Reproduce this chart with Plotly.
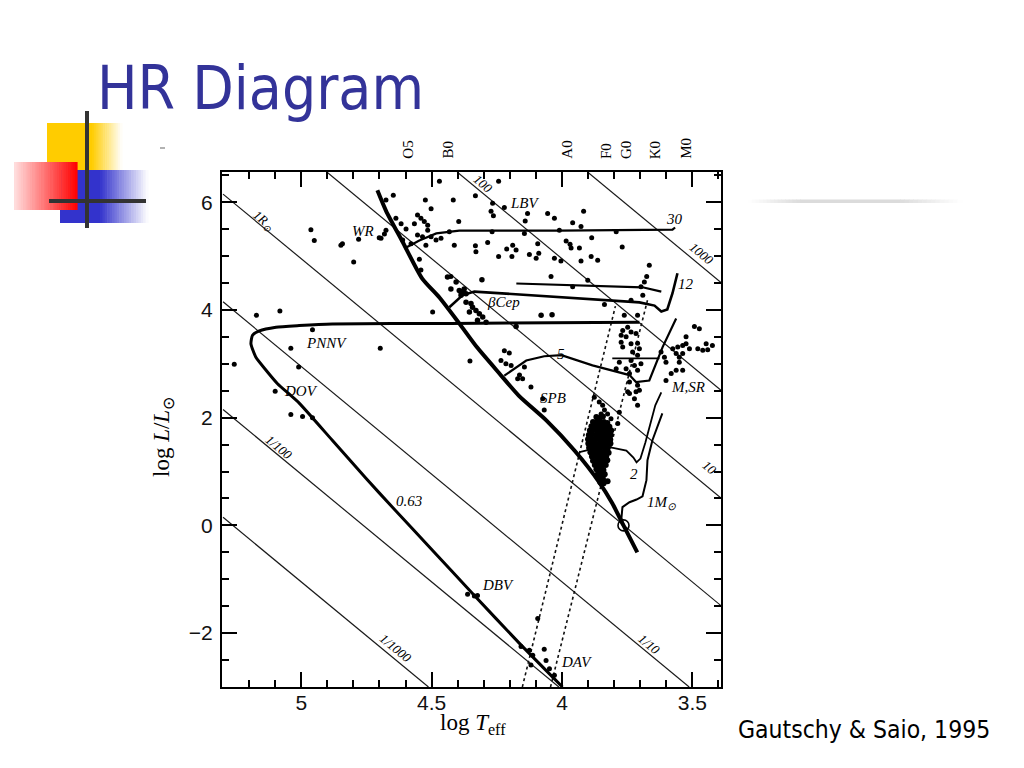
import plotly.graph_objects as go

# ---------------- data (log Teff, log L/Lsun) ----------------
zams_logT = [4.708, 4.674, 4.612, 4.536, 4.470, 4.394, 4.325, 4.240, 4.164, 4.060, 3.952, 3.857, 3.807, 3.764, 3.711]
zams_logL = [6.22, 5.83, 5.27, 4.58, 4.23, 3.75, 3.30, 2.82, 2.40, 1.95, 1.39, 0.80, 0.41, 0.00, -0.50]

track30_logT = [4.605, 4.547, 4.482, 4.394, 4.010, 3.576, 3.566]
track30_logL = [5.14, 5.29, 5.42, 5.47, 5.47, 5.49, 5.53]
track12_logT = [4.432, 4.382, 4.336, 3.895, 3.703, 3.645, 3.619, 3.596, 3.576, 3.557]
track12_logL = [4.05, 4.27, 4.34, 4.21, 4.14, 4.08, 3.97, 4.01, 4.31, 4.68]
loop12_logT = [4.175, 3.691, 3.619]
loop12_logL = [4.49, 4.42, 4.34]
track5_logT = [4.221, 4.171, 4.137, 4.068, 4.002, 3.883, 3.741, 3.716, 3.665, 3.614, 3.562]
track5_logL = [2.78, 2.95, 3.06, 3.14, 3.16, 2.97, 2.79, 2.66, 2.69, 3.31, 3.84]
loop5_logT = [3.807, 3.626]
loop5_logL = [3.10, 3.10]
track2_logT = [3.933, 3.837, 3.753, 3.726, 3.714, 3.699, 3.680, 3.661, 3.642, 3.619]
track2_logL = [1.36, 1.47, 1.39, 1.26, 1.17, 1.24, 1.54, 1.91, 2.23, 2.47]
track1_logT = [3.764, 3.772, 3.768, 3.741, 3.714, 3.691, 3.676, 3.672, 3.653, 3.615]
track1_logL = [0.00, 0.13, 0.34, 0.43, 0.48, 0.54, 0.84, 1.21, 1.58, 2.08]
pagb_logT = [3.703, 4.432, 4.881, 5.008, 5.097, 5.161, 5.187, 5.193, 5.174, 5.135, 5.091, 5.008,
             4.881, 4.751, 4.651, 4.497, 4.344, 4.163, 3.998]
pagb_logL = [3.77, 3.75, 3.74, 3.71, 3.68, 3.61, 3.53, 3.37, 3.12, 2.88, 2.63, 2.27,
             1.58, 0.87, 0.34, -0.46, -1.26, -2.19, -3.00]

# instability strip edges
strip_hot_logT = [4.152, 3.795]
strip_hot_logL = [-3.0, 4.07]
strip_cool_logT = [4.044, 3.672]
strip_cool_logL = [-3.0, 4.18]

# constant-radius lines (end points)
radius_names = ["1/1000", "1/100", "1/10", "1R<sub>⊙</sub>", "10", "100", "1000"]
radius_T0 = [5.30, 5.30, 5.30, 5.30, 4.902, 4.402, 3.902]
radius_L0 = [0.15, 2.15, 4.15, 6.15, 6.56, 6.56, 6.56]
radius_T1 = [4.512, 4.012, 3.512, 3.39, 3.39, 3.39, 3.39]
radius_L1 = [-3.0, -3.0, -3.0, -1.49, 0.51, 2.51, 4.51]
radius_lab_T = [4.637, 5.084, 3.665, 5.148, 3.434, 4.304, 3.466]
radius_lab_L = [-2.29, 1.45, -2.22, 5.66, 1.08, 6.34, 5.04]

# observed stars
upper_T = [4.470, 4.243, 4.332, 4.647, 4.675, 4.524, 4.417, 4.502, 4.266, 4.272, 4.263, 4.221, 4.132, 4.055, 4.029, 4.141,
           4.554, 4.541, 4.528, 4.515, 4.515, 4.396, 4.637, 4.617, 4.598, 4.566, 4.675, 4.694, 4.554, 4.535, 4.502, 4.483,
           4.464, 4.432, 4.611, 4.579, 4.522, 4.268, 4.144, 4.413, 4.332, 4.330, 4.285, 4.212, 4.189, 4.176, 4.192, 4.243,
           4.125, 4.093, 4.099, 4.089, 4.029, 4.547, 4.541, 4.426, 4.042,
           3.917, 3.959, 3.927, 4.010, 3.792, 3.886, 3.984, 3.969, 3.965, 3.933, 3.769, 4.004, 3.927, 3.888, 3.863, 3.665,
           3.675, 3.684, 3.697, 3.959, 3.901]
upper_L = [6.39, 6.39, 6.12, 6.13, 6.04, 6.04, 6.04, 5.88, 5.98, 5.83, 5.75, 5.90, 5.79, 5.79, 5.70, 5.65,
           5.76, 5.70, 5.64, 5.57, 5.48, 5.64, 5.70, 5.60, 5.50, 5.60, 5.48, 5.33, 5.39, 5.36, 5.36, 5.30,
           5.33, 5.45, 5.30, 5.23, 5.20, 5.45, 5.42, 5.20, 5.19, 5.08, 5.25, 5.13, 5.20, 5.11, 4.99, 4.99,
           5.03, 5.23, 4.96, 5.05, 4.96, 4.94, 4.74, 4.62, 4.62,
           5.83, 5.62, 5.55, 5.48, 5.45, 5.34, 5.28, 5.22, 5.15, 5.15, 5.17, 4.91, 4.91, 4.99, 4.92, 4.83,
           4.62, 4.52, 4.43, 4.43, 4.55]
bcep_T = [4.394, 4.375, 4.368, 4.387, 4.382, 4.426, 4.439, 4.406, 4.307, 4.349, 4.343, 4.330, 4.355, 4.317, 4.304,
          4.324, 4.291, 4.368, 4.080, 4.038, 4.176, 4.386, 4.378]
bcep_L = [4.36, 4.39, 4.30, 4.27, 4.33, 4.39, 4.61, 4.52, 4.56, 4.12, 4.05, 3.99, 3.96, 3.93, 3.87,
          3.81, 3.77, 4.14, 3.90, 3.91, 3.69, 4.31, 4.35]
spb_T = [4.221, 4.202, 4.234, 4.215, 4.195, 4.353, 4.163, 4.170, 4.151, 4.144, 4.119, 4.074, 4.068]
spb_L = [3.24, 3.20, 3.06, 3.00, 2.97, 3.05, 2.79, 2.72, 2.72, 2.94, 2.57, 2.35, 2.14]
ceph_T = [3.837, 3.735, 3.690, 3.761, 3.710, 3.748, 3.767, 3.735, 3.773, 3.754, 3.716, 3.773, 3.735, 3.710, 3.703,
          3.767, 3.729, 3.710, 3.735, 3.697, 3.780, 3.722, 3.710, 3.754, 3.741, 3.792, 3.741, 3.710, 3.703, 3.748,
          3.876, 3.857, 3.844, 3.837, 3.850, 3.825, 3.812, 3.780, 3.786, 3.741, 3.716, 3.710, 3.722]
ceph_L = [4.10, 4.18, 4.27, 3.90, 3.90, 3.68, 3.62, 3.59, 3.53, 3.50, 3.56, 3.40, 3.37, 3.38, 3.28,
          3.31, 3.22, 3.16, 3.06, 3.00, 3.03, 2.97, 2.88, 2.91, 2.82, 2.91, 2.66, 2.60, 2.51, 2.48,
          2.38, 2.29, 2.23, 2.14, 2.07, 2.07, 1.98, 2.10, 1.89, 2.45, 2.48, 2.23, 2.35]
msr_T = [3.620, 3.607, 3.601, 3.575, 3.556, 3.562, 3.550, 3.537, 3.524, 3.511, 3.492, 3.473, 3.479, 3.460, 3.441,
         3.524, 3.537, 3.550, 3.581, 3.562, 3.537, 3.601, 3.423, 3.447]
msr_L = [3.22, 3.12, 3.03, 3.28, 3.31, 3.19, 3.12, 3.34, 3.37, 3.28, 3.69, 3.65, 3.28, 3.25, 3.26,
         3.50, 3.19, 3.03, 2.82, 2.88, 2.88, 2.69, 3.34, 3.37]
clump_T = [3.868, 3.855, 3.843, 3.881, 3.865, 3.852, 3.839, 3.826, 3.887, 3.875, 3.861, 3.846, 3.833, 3.818,
           3.893, 3.878, 3.865, 3.849, 3.836, 3.823, 3.811, 3.897, 3.884, 3.868, 3.856, 3.840, 3.828, 3.813,
           3.900, 3.885, 3.872, 3.857, 3.844, 3.829, 3.815, 3.899, 3.886, 3.870, 3.855, 3.842, 3.827, 3.814,
           3.896, 3.881, 3.868, 3.853, 3.838, 3.825, 3.891, 3.877, 3.861, 3.848, 3.835, 3.821,
           3.885, 3.872, 3.859, 3.844, 3.830, 3.881, 3.866, 3.851, 3.839, 3.826, 3.874, 3.861, 3.846, 3.832,
           3.868, 3.853, 3.841, 3.862, 3.849, 3.836, 3.857, 3.843, 3.853, 3.840, 3.825]
clump_L = [2.01, 1.99, 2.02, 1.92, 1.93, 1.91, 1.92, 1.90, 1.84, 1.85, 1.83, 1.84, 1.85, 1.83,
           1.76, 1.77, 1.75, 1.76, 1.77, 1.75, 1.76, 1.68, 1.69, 1.67, 1.68, 1.69, 1.67, 1.68,
           1.60, 1.61, 1.59, 1.60, 1.61, 1.59, 1.60, 1.52, 1.53, 1.51, 1.52, 1.53, 1.51, 1.52,
           1.44, 1.45, 1.43, 1.44, 1.45, 1.43, 1.36, 1.37, 1.35, 1.36, 1.37, 1.35,
           1.28, 1.29, 1.27, 1.28, 1.29, 1.20, 1.21, 1.19, 1.20, 1.21, 1.12, 1.13, 1.11, 1.12,
           1.04, 1.05, 1.03, 0.96, 0.97, 0.95, 0.88, 0.87, 0.80, 0.78, 0.82]
left_T = [4.963, 4.950, 4.848, 4.842, 4.780, 4.799, 4.701, 4.681, 5.172, 5.082, 4.957, 4.496, 5.257, 5.040,
          5.010, 5.100, 5.040, 4.995, 4.957, 4.697]
left_L = [5.49, 5.29, 5.20, 5.23, 5.31, 4.89, 5.34, 5.41, 3.90, 3.98, 3.63, 3.96, 2.99, 3.29,
          2.94, 2.49, 2.06, 2.02, 2.00, 3.29]
wd_T = [4.362, 4.336, 4.324, 4.093, 4.157, 4.125, 4.112, 4.119, 4.068, 4.061, 4.048, 4.029]
wd_L = [-1.28, -1.31, -1.30, -1.73, -2.25, -2.32, -2.41, -2.59, -2.30, -2.51, -2.66, -2.78]

sun_T = [3.764]
sun_L = [0.00]

# region / track labels
labels_text = ["WR", "LBV", "βCep", "PNNV", "DOV", "0.63", "SPB", "5", "12", "30", "M,SR", "2",
               "1<i>M</i><sub>⊙</sub>", "DBV", "DAV"]
labels_T = [4.765, 4.140, 4.225, 4.905, 5.000, 4.586, 4.033, 4.003, 3.523, 3.569, 3.515, 3.722, 3.620, 4.244, 3.946]
labels_L = [5.47, 5.98, 4.14, 3.38, 2.49, 0.45, 2.37, 3.19, 4.49, 5.68, 2.57, 0.96, 0.41, -1.11, -2.53]

spectral_types = ["O5", "B0", "A0", "F0", "G0", "K0", "M0"]
spectral_logT = [4.592, 4.439, 3.982, 3.831, 3.754, 3.642, 3.527]

x_major = [5, 4.5, 4, 3.5]
x_major_text = ["5", "4.5", "4", "3.5"]
x_minor = [5.2, 5.1, 4.9, 4.8, 4.7, 4.6, 4.4, 4.3, 4.2, 4.1, 3.9, 3.8, 3.7, 3.6, 3.4]
y_major = [-2, 0, 2, 4, 6]
y_minor = [-2.5, -1.5, -1, -0.5, 0.5, 1, 1.5, 2.5, 3, 3.5, 4.5, 5, 5.5, 6.5]

# ---------------- figure ----------------
ML, MR, MT, MB = 222, 303, 172, 81
W, H = 1024, 768
PW, PH = W - ML - MR, H - MT - MB


def PX(px):
    return (px - ML) / PW


def PY(py):
    return (H - MB - py) / PH


fig = go.Figure()

for i in range(len(radius_names)):
    fig.add_trace(go.Scatter(x=[radius_T0[i], radius_T1[i]], y=[radius_L0[i], radius_L1[i]], mode="lines",
                             line=dict(color="#1a1a1a", width=1.2), hoverinfo="skip"))

fig.add_trace(go.Scatter(x=strip_hot_logT, y=strip_hot_logL, mode="lines",
                         line=dict(color="#111", width=1.6, dash="dot")))
fig.add_trace(go.Scatter(x=strip_cool_logT, y=strip_cool_logL, mode="lines",
                         line=dict(color="#111", width=1.6, dash="dot")))

fig.add_trace(go.Scatter(x=zams_logT, y=zams_logL, mode="lines",
                         line=dict(color="black", width=4, shape="spline", smoothing=0.6)))
fig.add_trace(go.Scatter(x=pagb_logT, y=pagb_logL, mode="lines",
                         line=dict(color="black", width=3, shape="spline", smoothing=0.5)))
for tx, ty, w in [(track30_logT, track30_logL, 2.2), (track12_logT, track12_logL, 2.6),
                  (loop12_logT, loop12_logL, 2.2), (track5_logT, track5_logL, 2.2),
                  (loop5_logT, loop5_logL, 1.8), (track2_logT, track2_logL, 1.8),
                  (track1_logT, track1_logL, 2.0)]:
    fig.add_trace(go.Scatter(x=tx, y=ty, mode="lines", line=dict(color="black", width=w)))

for sx, sy, s in [(upper_T, upper_L, 5), (bcep_T, bcep_L, 5.5), (spb_T, spb_L, 5), (ceph_T, ceph_L, 5),
                  (msr_T, msr_L, 5), (clump_T, clump_L, 6), (left_T, left_L, 5), (wd_T, wd_L, 5)]:
    fig.add_trace(go.Scatter(x=sx, y=sy, mode="markers", marker=dict(color="black", size=s, line=dict(width=0))))

fig.add_trace(go.Scatter(x=sun_T, y=sun_L, mode="markers",
                         marker=dict(symbol="circle-open-dot", size=11, color="black", line=dict(width=1.6))))

ann = []
serif = "Liberation Serif, Times New Roman, serif"
for t, x, y in zip(labels_text, labels_T, labels_L):
    ann.append(dict(x=x, y=y, text=f"<i>{t}</i>", showarrow=False, xref="x", yref="y",
                    xanchor="center", yanchor="middle",
                    font=dict(family=serif, size=15, color="black")))
for t, x, y in zip(radius_names, radius_lab_T, radius_lab_L):
    ann.append(dict(x=x, y=y, text=f"<i>{t}</i>", showarrow=False, xref="x", yref="y", textangle=39.6,
                    xanchor="center", yanchor="middle",
                    font=dict(family=serif, size=13, color="black")))
for t, x in zip(spectral_types, spectral_logT):
    ann.append(dict(x=x, y=1, xref="x", yref="paper", text=t, showarrow=False, textangle=-90,
                    xanchor="center", yanchor="bottom", yshift=11,
                    font=dict(family=serif, size=15, color="black")))
# axis titles
ann.append(dict(x=PX(473), y=PY(724), xref="paper", yref="paper", showarrow=False,
                xanchor="center", yanchor="middle",
                text="log <i>T</i><sub>eff</sub>", font=dict(family=serif, size=23, color="black")))
ann.append(dict(x=PX(163), y=PY(437), xref="paper", yref="paper", showarrow=False, textangle=-90,
                xanchor="center", yanchor="middle",
                text="log <i>L</i>/<i>L</i><sub>⊙</sub>", font=dict(family=serif, size=23, color="black")))
# citation
ann.append(dict(x=PX(736), y=PY(729), xref="paper", yref="paper", showarrow=False,
                xanchor="left", yanchor="middle",
                text="Gautschy &amp; Saio, 1995",
                font=dict(family="DejaVu Sans Condensed, DejaVu Sans, sans-serif", size=24.5, color="black")))

# decorative logo (slide template)
shapes = []


def blend(rgb, a):
    r, g, b = rgb
    return "rgb(%d,%d,%d)" % (round(255 + (r - 255) * a), round(255 + (g - 255) * a), round(255 + (b - 255) * a))


def hgrad(x0, x1, y0, y1, rgb, a0, a1, n):
    for i in range(n):
        xa = x0 + (x1 - x0) * i / n
        xb = x0 + (x1 - x0) * (i + 1) / n + 0.6
        a = a0 + (a1 - a0) * (i + 0.5) / n
        shapes.append(dict(type="rect", xref="paper", yref="paper", x0=PX(xa), x1=PX(xb),
                           y0=PY(y1), y1=PY(y0), fillcolor=blend(rgb, a), line=dict(width=0), layer="above"))


YEL, BLU, RED = (255, 204, 0), (51, 51, 204), (255, 0, 0)
hgrad(47, 92, 123, 170, YEL, 1, 1, 1)
hgrad(92, 122, 123, 170, YEL, 1, 0, 16)
hgrad(60, 100, 170, 223, BLU, 1, 1, 1)
hgrad(100, 148, 170, 223, BLU, 1, 0, 20)
hgrad(14, 77, 162, 210, RED, 0.12, 1, 28)
# faint grey rule on the right
hgrad(748, 800, 199.5, 203, (190, 190, 190), 0, 0.55, 14)
hgrad(800, 900, 199.5, 203, (190, 190, 190), 0.55, 0.55, 1)
hgrad(900, 962, 199.5, 203, (190, 190, 190), 0.55, 0, 14)
for (xa, ya, xb, yb) in [(87, 111, 87, 228), (49, 201, 146, 201)]:
    shapes.append(dict(type="line", xref="paper", yref="paper", x0=PX(xa), y0=PY(ya), x1=PX(xb), y1=PY(yb),
                       line=dict(color="#333333", width=4), layer="above"))
shapes.append(dict(type="line", xref="paper", yref="paper", x0=PX(160), y0=PY(148), x1=PX(165), y1=PY(148),
                   line=dict(color="#999999", width=1.5), layer="above"))

axis_common = dict(showline=True, linecolor="black", linewidth=2, mirror="ticks", ticks="inside",
                   ticklen=15, tickwidth=2, tickcolor="black", showgrid=False, zeroline=False,
                   tickfont=dict(family="Liberation Sans, Arial, sans-serif", size=21, color="#111"))

fig.update_layout(
    width=W, height=H, margin=dict(l=ML, r=MR, t=MT, b=MB), autosize=False,
    paper_bgcolor="white", plot_bgcolor="white", showlegend=False, hovermode=False,
    title=dict(text="HR Diagram", x=97 / W, xanchor="left", xref="container",
               y=1 - 88 / H, yanchor="middle", yref="container",
               font=dict(family="DejaVu Sans Condensed, DejaVu Sans, sans-serif", size=60, color="#333399")),
    xaxis=dict(range=[5.304, 3.39], tickvals=x_major, ticktext=x_major_text, ticklabelstandoff=-4,
               minor=dict(tickvals=x_minor, ticks="inside", ticklen=7, tickwidth=1.5, tickcolor="black"),
               **axis_common),
    yaxis=dict(range=[-3.0, 6.56], tickvals=y_major, ticklabelstandoff=3,
               minor=dict(tickvals=y_minor, ticks="inside", ticklen=7, tickwidth=1.5, tickcolor="black"),
               **axis_common),
    annotations=ann, shapes=shapes,
)

fig.write_html("out.html", config={"displayModeBar": False},
               post_script="document.body.style.margin='0';")
